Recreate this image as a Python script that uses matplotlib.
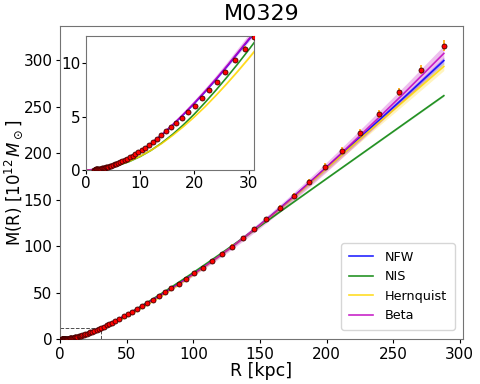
import matplotlib
matplotlib.use("Agg")
import matplotlib.pyplot as plt
import numpy as np

# measured cumulative mass profile (R in kpc, M in 1e12 Msun)
r_data = [1.5, 1.6, 1.7, 1.8, 1.9, 2.0, 2.1, 2.3, 2.4, 2.6, 2.7, 2.9, 3.1, 3.3,
          3.5, 3.7, 3.9, 4.1, 4.4, 4.7, 5.0, 5.3, 5.6, 6.0, 6.3, 6.7, 7.2, 7.6,
          8.1, 8.6, 9.1, 9.7, 10.3, 10.9, 11.6, 12.3, 13.1, 13.9, 14.8, 15.7,
          16.7, 17.8, 18.9, 20.1, 21.4, 22.8, 24.2, 25.7, 27.5, 29.3, 31.1,
          33.0, 35.0, 37.1, 39.2, 41.4, 44.6, 47.9, 51.1, 54.4, 57.9, 61.4,
          65.2, 69.5, 74.0, 78.7, 83.5, 89.0, 94.5, 100.8, 107.0, 113.8, 121.3,
          129.0, 137.1, 145.9, 154.6, 164.9, 175.4, 186.7, 198.7, 211.5, 225.0,
          239.3, 254.6, 271.2, 288.2]
m_data = [0.04, 0.05, 0.055, 0.06, 0.07, 0.075, 0.085, 0.10, 0.11, 0.13, 0.14,
          0.16, 0.19, 0.21, 0.24, 0.27, 0.30, 0.33, 0.38, 0.43, 0.48, 0.54, 0.60,
          0.68, 0.75, 0.84, 0.96, 1.07, 1.20, 1.35, 1.50, 1.69, 1.89, 2.10, 2.35,
          2.62, 2.93, 3.26, 3.63, 4.02, 4.44, 4.93, 5.44, 6.04, 6.72, 7.48, 8.30,
          9.22, 10.3, 11.4, 12.5, 13.7, 15.0, 16.5, 18.0, 19.6, 22.0, 24.6, 27.1,
          29.8, 32.6, 35.6, 38.8, 42.5, 46.4, 50.5, 54.9, 59.8, 65.0, 70.9, 77.0,
          83.8, 91.6, 99.8, 108.7, 118.7, 129.0, 141.5, 154.6, 169.5, 185.8,
          203.0, 221.8, 242.6, 265.8, 290.0, 316.0]
m_err = [0.0, 0.0, 0.0, 0.0, 0.0, 0.0, 0.0, 0.0, 0.0, 0.0, 0.0, 0.0, 0.01, 0.01,
         0.01, 0.01, 0.01, 0.01, 0.01, 0.01, 0.01, 0.01, 0.01, 0.01, 0.01, 0.02,
         0.02, 0.02, 0.02, 0.02, 0.03, 0.03, 0.03, 0.04, 0.04, 0.05, 0.05, 0.06,
         0.06, 0.07, 0.08, 0.09, 0.1, 0.11, 0.12, 0.13, 0.15, 0.17, 0.19, 0.21,
         0.23, 0.25, 0.28, 0.31, 0.34, 0.37, 0.42, 0.47, 0.52, 0.58, 0.64, 0.7,
         0.77, 0.85, 0.94, 1.03, 1.13, 1.25, 1.37, 1.5, 1.65, 1.82, 2.0, 2.2,
         2.4, 2.6, 2.8, 3.0, 3.2, 3.4, 3.6, 3.8, 4.0, 4.3, 4.6, 5.0, 5.6]

# best-fit model curves
r_mod = [0, 2, 4, 6, 8, 10, 12, 14, 16, 18, 20, 22, 24, 26, 28, 30, 32, 35, 40,
         45, 50, 60, 70, 80, 90, 100, 110, 120, 130, 140, 150, 160, 170, 180,
         190, 200, 220, 240, 260, 288]
m_nfw = [0, 0.07, 0.28, 0.63, 1.12, 1.74, 2.47, 3.3, 4.22, 5.2, 6.25, 7.35, 8.5,
         9.7, 10.95, 12.2, 13.45, 15.45, 18.85, 22.45, 26.25, 34.3, 42.8, 51.6,
         60.8, 70.3, 80.1, 90.2, 100.7, 111.8, 123.2, 135.0, 147.1, 159.4, 172.0,
         184.8, 210.5, 236.4, 262.5, 299.8]
m_nis = [0, 0.05, 0.2, 0.45, 0.8, 1.27, 1.85, 2.55, 3.35, 4.25, 5.25, 6.35, 7.5,
         8.7, 9.95, 11.25, 12.6, 14.75, 18.45, 22.35, 26.4, 34.9, 43.7, 52.8,
         62.2, 71.8, 81.6, 91.5, 101.5, 111.6, 121.8, 132.0, 142.2, 152.4, 162.6,
         172.8, 193.1, 213.4, 233.7, 262.1]
m_hern = [0, 0.06, 0.22, 0.48, 0.84, 1.3, 1.85, 2.5, 3.25, 4.08, 4.98, 5.95, 7.0,
          8.1, 9.25, 10.45, 11.7, 13.6, 17.0, 20.6, 24.4, 32.5, 41.1, 50.1, 59.6,
          69.4, 79.5, 89.9, 100.6, 111.6, 122.9, 134.5, 146.4, 158.6, 171.1,
          183.8, 209.0, 234.0, 258.6, 293.5]
m_beta = [0, 0.07, 0.28, 0.63, 1.12, 1.74, 2.48, 3.32, 4.25, 5.25, 6.3, 7.4, 8.55,
          9.75, 11.0, 12.25, 13.5, 15.5, 18.9, 22.5, 26.3, 34.3, 42.7, 51.4, 60.5,
          70.0, 79.8, 90.0, 100.6, 111.6, 123.0, 134.8, 147.0, 159.5, 172.3,
          185.3, 212.2, 239.5, 267.3, 307.5]

# relative uncertainty of each fit (shaded band)
models = [
    ("NFW", m_nfw, "blue", 0.012),
    ("NIS", m_nis, "green", 0.003),
    ("Hernquist", m_hern, "gold", 0.015),
    ("Beta", m_beta, "m", 0.028),
]

r_zoom = 31
m_zoom = 12.6

fig = plt.figure(figsize=(4.8, 3.84), dpi=100)
ax = fig.add_axes([0.125, 0.1164, 0.8396, 0.8159])
ins = fig.add_axes([0.179, 0.557, 0.350, 0.350])

for a in (ax, ins):
    for name, m, c, frac in models:
        m = np.array(m)
        a.fill_between(r_mod, m * (1 - frac), m * (1 + frac), color=c, alpha=0.25, lw=0)
        a.plot(r_mod, m, color=c, lw=1.2, alpha=0.85, label=name)
    a.errorbar(r_data, m_data, yerr=m_err, fmt="o", ms=3.6, mfc="red", mec="#400000",
               mew=0.6, ecolor="orange", elinewidth=1.2, capsize=0, zorder=5)
    for s in a.spines.values():
        s.set_color("0.45")

ax.plot([0, r_zoom], [m_zoom, m_zoom], "--", color="0.3", lw=0.7)
ax.plot([r_zoom, r_zoom], [0, m_zoom], "--", color="0.3", lw=0.7)

ax.set_xlim(0, 302.4)
ax.set_ylim(0, 337)
ax.set_xlabel("R [kpc]", fontsize=12.5, labelpad=0)
ax.set_ylabel(r"M(R) [$10^{12}\,M_\odot$]", fontsize=12)
ax.yaxis.set_label_coords(-0.088, 0.5)
ax.set_title("M0329", fontsize=16, pad=4)
ax.tick_params(labelsize=11, length=3, pad=2.5)
ax.legend(loc="lower right", fontsize=9.2, handlelength=1.9, handletextpad=0.9,
          borderpad=0.6, labelspacing=0.5, bbox_to_anchor=(0.995, 0.01))

ins.set_xlim(0, r_zoom)
ins.set_ylim(0, m_zoom)
ins.set_xticks([0, 10, 20, 30])
ins.set_yticks([0, 5, 10])
ins.tick_params(labelsize=11, length=3, pad=1)

fig.savefig("out.png", dpi=100)
